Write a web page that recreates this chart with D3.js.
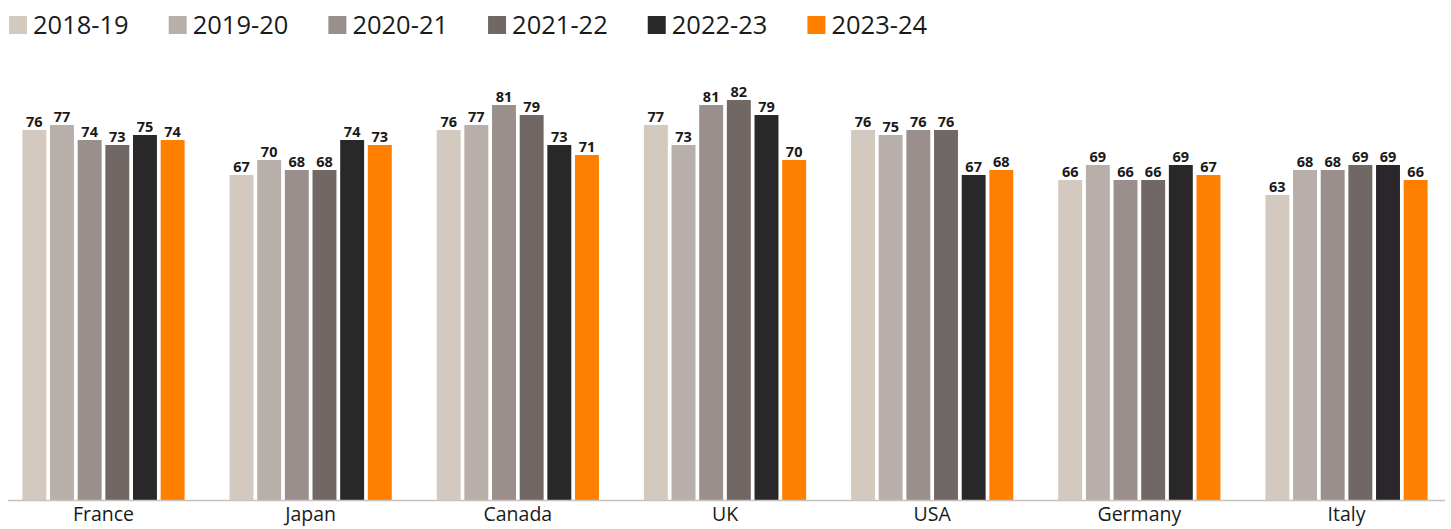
<!DOCTYPE html>
<html>
<head>
<meta charset="utf-8">
<script src="https://cdn.jsdelivr.net/npm/d3@7"></script>
<style>
  html, body { margin: 0; padding: 0; background: #ffffff; }
  svg { display: block; font-family: "Open Sans", "Noto Sans", sans-serif; }
</style>
</head>
<body>
<svg id="chart" width="1451" height="529"></svg>
<script>
// Countries along the x axis
const countries = ["France", "Japan", "Canada", "UK", "USA", "Germany", "Italy"];

// School years shown in the legend, one bar per year in each country group
const years = ["2018-19", "2019-20", "2020-21", "2021-22", "2022-23", "2023-24"];

// Values per year, in country order
const values2018 = [76, 67, 76, 77, 76, 66, 63];
const values2019 = [77, 70, 77, 73, 75, 69, 68];
const values2020 = [74, 68, 81, 81, 76, 66, 68];
const values2021 = [73, 68, 79, 82, 76, 66, 69];
const values2022 = [75, 74, 73, 79, 67, 69, 69];
const values2023 = [74, 73, 71, 70, 68, 67, 66];

const colors = ["#d3c9bf", "#b8aeaa", "#9b8f8e", "#716765", "#29272a", "#ff7f00"];

const seriesValues = [values2018, values2019, values2020, values2021, values2022, values2023];
const rows = countries.map((c, i) => ({
  country: c,
  bars: years.map((y, j) => ({ year: y, value: seriesValues[j][i] }))
}));

const svg = d3.select("#chart");
const baseline = 500;

const x0 = d3.scaleBand().domain(countries).range([0, 1450]).paddingInner(0.217).paddingOuter(0.108);
const x1 = d3.scaleBand().domain(years).range([0, x0.bandwidth()]).paddingInner(0.135).paddingOuter(0);
const y = d3.scaleLinear().domain([2, 84]).range([baseline, 90]);
const color = d3.scaleOrdinal().domain(years).range(colors);

// Bars and value labels
const groups = svg.append("g").selectAll("g")
  .data(rows).join("g")
  .attr("transform", d => `translate(${x0(d.country)},0)`);

groups.selectAll("rect")
  .data(d => d.bars).join("rect")
  .attr("x", d => x1(d.year))
  .attr("y", d => y(d.value))
  .attr("width", x1.bandwidth())
  .attr("height", d => baseline - y(d.value))
  .attr("fill", d => color(d.year));

groups.selectAll("text")
  .data(d => d.bars).join("text")
  .attr("x", d => x1(d.year) + x1.bandwidth() / 2)
  .attr("y", d => y(d.value) - 3.5)
  .attr("text-anchor", "middle")
  .attr("font-size", 14.5)
  .attr("font-weight", 700)
  .attr("fill", "#1a1a1a")
  .text(d => d.value);

// Category axis
const xAxis = svg.append("g")
  .attr("transform", `translate(0,${baseline})`)
  .call(d3.axisBottom(x0).tickSize(0).tickPadding(7.5));
xAxis.select(".domain").attr("d", "M8,0.5H1445").attr("stroke", "#c9c1bd").attr("stroke-width", 1.5);
xAxis.selectAll("text")
  .attr("font-size", 19.5)
  .attr("font-family", "'Open Sans', sans-serif")
  .attr("fill", "#1a1a1a");

// Legend
const legend = svg.append("g").attr("transform", "translate(9,0)");
let lx = 0;
years.forEach((yr, i) => {
  const item = legend.append("g").attr("transform", `translate(${lx},0)`);
  item.append("rect").attr("x", 0).attr("y", 16).attr("width", 18).attr("height", 18).attr("fill", colors[i]);
  const t = item.append("text")
    .attr("x", 24).attr("y", 34)
    .attr("font-size", 25.5)
    .attr("fill", "#1a1a1a")
    .text(yr);
  lx += 24 + t.node().getComputedTextLength() + 40;
});
</script>
</body>
</html>
